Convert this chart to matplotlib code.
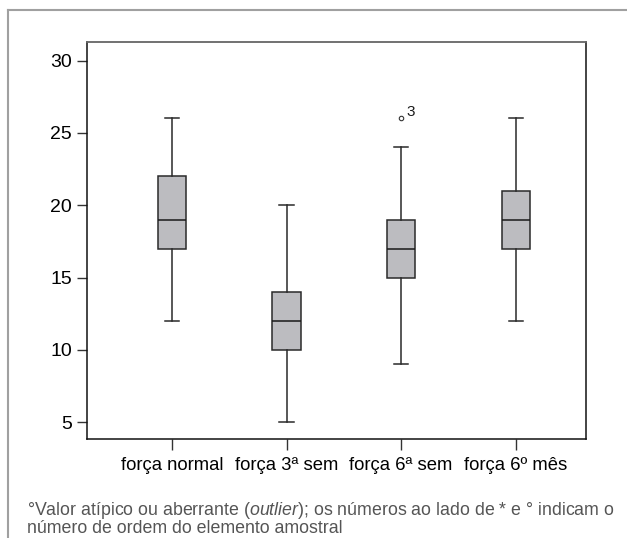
import matplotlib.pyplot as plt
from matplotlib.lines import Line2D

plt.rcParams['font.family'] = ['Liberation Sans', 'DejaVu Sans']
plt.rcParams['mathtext.fontset'] = 'custom'
plt.rcParams['mathtext.it'] = 'Liberation Sans:italic'
plt.rcParams['mathtext.rm'] = 'Liberation Sans'

# valores
grupos = ['força normal', 'força 3ª sem', 'força 6ª sem', 'força 6º mês']
minimo = [12, 5, 9, 12]
q1 = [17, 10, 15, 17]
mediana = [19, 12, 17, 19]
q3 = [22, 14, 19, 21]
maximo = [26, 20, 24, 26]
atipicos = [[], [], [26], []]
rotulos_atipicos = [[], [], ['3'], []]

stats = []
for i in range(len(grupos)):
    stats.append(dict(whislo=minimo[i], q1=q1[i], med=mediana[i], q3=q3[i],
                      whishi=maximo[i], fliers=atipicos[i], label=grupos[i]))

fig = plt.figure(figsize=(6.27, 5.38), dpi=100)
ax = fig.add_axes([87/627, 1-439.3/538, (585.7-87)/627, (439.3-41.7)/538])

pos = [1, 2, 3, 4]
ax.bxp(stats, positions=pos, widths=0.247, patch_artist=True,
       boxprops=dict(facecolor='#bcbcc0', edgecolor='#2a2a2a', linewidth=1.1),
       medianprops=dict(color='#1a1a1a', linewidth=1.1),
       whiskerprops=dict(color='#2a2a2a', linewidth=1.1),
       capprops=dict(color='#2a2a2a', linewidth=1.1),
       capwidths=0.125,
       flierprops=dict(marker='o', markersize=3.2, markerfacecolor='white',
                       markeredgecolor='#333333', markeredgewidth=0.8))

for i, (vals, labs) in enumerate(zip(atipicos, rotulos_atipicos)):
    for v, l in zip(vals, labs):
        ax.annotate(l, (pos[i], v), xytext=(3.5, 2), textcoords='offset points',
                    fontsize=11, color='#1a1a1a')

ax.set_xlim(0.259, 4.61)
ax.set_ylim(3.82, 31.3)
ax.set_yticks([5, 10, 15, 20, 25, 30])
ax.set_xticks(pos)
ax.set_xticklabels(grupos)
ax.tick_params(axis='y', length=7.2, width=1.0, labelsize=14, pad=3.6, color='#333333')
ax.tick_params(axis='x', length=8, width=1.0, labelsize=13.3, pad=4.5, color='#333333')
for s in ['left', 'bottom', 'right']:
    ax.spines[s].set_linewidth(1.1)
    ax.spines[s].set_color('#111111')
ax.spines['top'].set_linewidth(1.3)
ax.spines['top'].set_color('#666666')

# moldura externa
yt = 1 - 10/538
xl = 8/627
fig.add_artist(Line2D([xl, 1], [yt, yt], transform=fig.transFigure, color='#a0a0a0', lw=1.5))
fig.add_artist(Line2D([xl, xl], [0, yt], transform=fig.transFigure, color='#a0a0a0', lw=1.5))

fig.text(27/627, 1-515/538, '°Valor atípico ou aberrante ($\\it{outlier}$); os números ao lado de * e ° indicam o',
         fontsize=12.8, color='#555555', va='baseline')
fig.text(27/627, 1-533/538, 'número de ordem do elemento amostral',
         fontsize=12.8, color='#555555', va='baseline')

fig.savefig('out.png', dpi=100)
